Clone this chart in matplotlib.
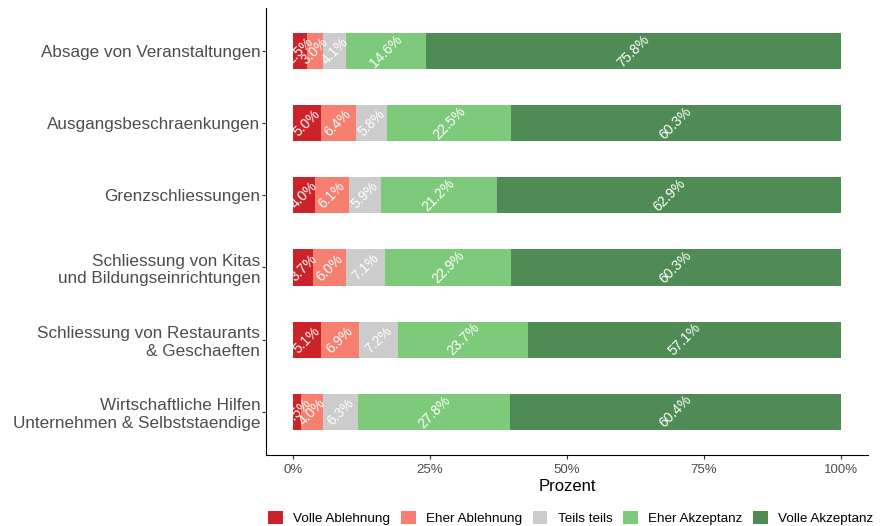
import numpy as np
import matplotlib.pyplot as plt

plt.rcParams['font.family'] = ['Liberation Sans', 'DejaVu Sans']

# Massnahmen (top to bottom)
measures = ['Absage von Veranstaltungen',
            'Ausgangsbeschraenkungen',
            'Grenzschliessungen',
            'Schliessung von Kitas\nund Bildungseinrichtungen',
            'Schliessung von Restaurants\n& Geschaeften',
            'Wirtschaftliche Hilfen\nUnternehmen & Selbststaendige']

levels = ['Volle Ablehnung', 'Eher Ablehnung', 'Teils teils',
          'Eher Akzeptanz', 'Volle Akzeptanz']

volle_ablehnung = [2.5, 5.0, 4.0, 3.7, 5.1, 1.5]
eher_ablehnung = [3.0, 6.4, 6.1, 6.0, 6.9, 4.0]
teils_teils = [4.1, 5.8, 5.9, 7.1, 7.2, 6.3]
eher_akzeptanz = [14.6, 22.5, 21.2, 22.9, 23.7, 27.8]
volle_akzeptanz = [75.8, 60.3, 62.9, 60.3, 57.1, 60.4]

colors = ['#cc2229', '#f67f70', '#cccccc', '#7dca7a', '#4f8b55']

series = [volle_ablehnung, eher_ablehnung, teils_teils,
          eher_akzeptanz, volle_akzeptanz]

fig = plt.figure(figsize=(8.86, 5.26), dpi=100)
ax = fig.add_axes([0.300, 0.135, 0.680, 0.850])

y = np.arange(len(measures))[::-1] + 1
left = np.zeros(len(measures))
for vals, col, lab in zip(series, colors, levels):
    vals = np.array(vals)
    ax.barh(y, vals, left=left, height=0.5, color=col, label=lab)
    for yi, l, v in zip(y, left, vals):
        ax.text(l + v / 2, yi, f'{v:.1f}%', color='white', fontsize=10,
                rotation=45, ha='center', va='center')
    left = left + vals

ax.set_xlim(-5, 105)
ax.set_ylim(0.4, 6.6)
ax.set_yticks(y)
ax.set_yticklabels(measures, fontsize=12.3, color='#4d4d4d')
ax.set_xticks([0, 25, 50, 75, 100])
ax.set_xticklabels(['0%', '25%', '50%', '75%', '100%'], fontsize=9.5,
                   color='#4d4d4d')
ax.set_xlabel('Prozent', fontsize=12, labelpad=2)
ax.tick_params(axis='both', color='#333333', length=3)
ax.tick_params(axis='y', pad=1)
for s in ['top', 'right']:
    ax.spines[s].set_visible(False)

fig.legend(loc='lower center', bbox_to_anchor=(0.644, -0.022), ncol=5,
           frameon=False, fontsize=9.7, handlelength=1.1, handleheight=1.1,
           columnspacing=0.8, handletextpad=0.75)

fig.savefig('out.png', dpi=100)
